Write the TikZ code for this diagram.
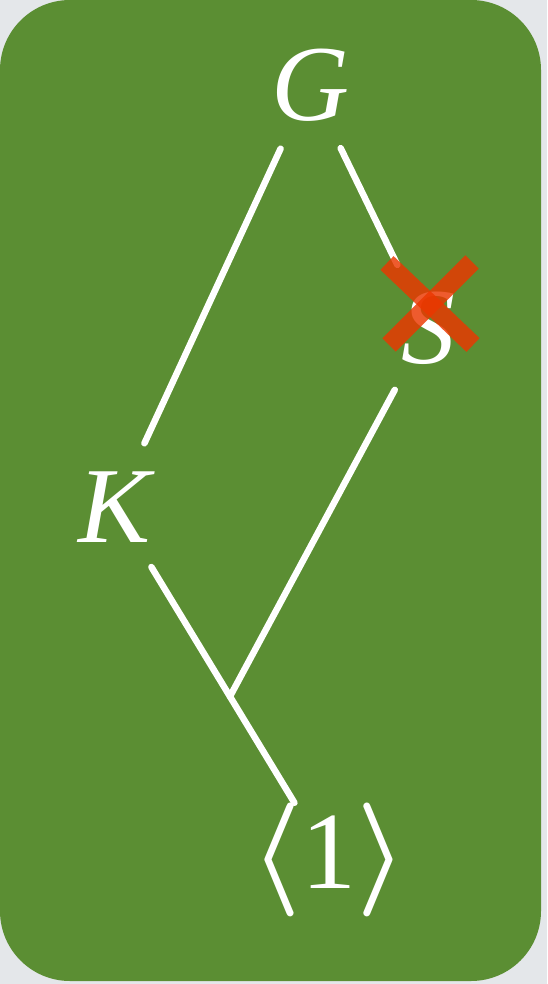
\RequirePackage{fix-cm}
\documentclass[tikz,border=0pt]{standalone}
\usepackage{fontspec}
\setmainfont{Liberation Serif}
\usetikzlibrary{calc}
\definecolor{bggray}{RGB}{228,231,234}
\definecolor{panel}{RGB}{91,142,51}
\definecolor{crossred}{RGB}{235,55,0}
\newcommand{\bigbr}[1]{{\fontsize{114}{114}\selectfont\boldmath$#1$}}
\begin{document}
\begin{tikzpicture}[x=1pt,y=-1pt,
  lbl/.style={text=white,circle,inner sep=0pt,minimum size=140pt,font=\fontsize{108}{108}\selectfont\itshape},
  bottomlbl/.style={text=white,rectangle,inner sep=0pt,font=\fontsize{110}{110}\selectfont},
  edge/.style={white,line width=6.5pt,line cap=round},
  cross/.style={crossred,opacity=0.82,line width=19pt}]
\useasboundingbox (0,0) rectangle (547,984);
\fill[bggray] (0,0) rectangle (547,984);
\fill[panel,rounded corners=70pt] (0,0) rectangle (541,981);
\node[lbl] (G) at (310,85) {G};
\node[lbl] (K) at (115,507) {K};
\node[lbl] (S) at (428,328) {S};
\node[bottomlbl] (one) at (329,860) {\bigbr{\langle}1\bigbr{\rangle}};
\coordinate (j) at ($(K.center)!0.537!(one.center)$);
\draw[edge] (G) -- (K);
\draw[edge] (G) -- (S);
\draw[edge] (K) -- (one);
\draw[edge] (S) -- (j);
\coordinate (xa) at (387,263);
\coordinate (xb) at (473,345);
\coordinate (xc) at (472,262);
\coordinate (xd) at (389,345);
\draw[cross] (xa) -- (xb);
\draw[cross] (xc) -- (xd);
\end{tikzpicture}
\end{document}
